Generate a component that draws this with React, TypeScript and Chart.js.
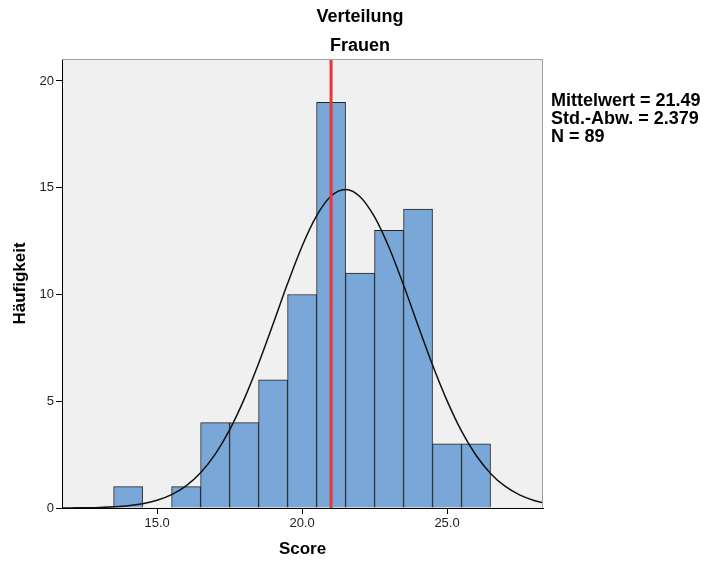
import React, { useEffect, useRef } from "react";
import { Chart, registerables } from "chart.js";

Chart.register(...registerables);

// Histogram bins (centre of 1-wide bin) and counts
const binCenters = [14, 16, 17, 18, 19, 20, 21, 22, 23, 24, 25, 26];
const binCounts = [1, 1, 4, 4, 6, 10, 19, 11, 13, 14, 3, 3];

// Normal curve points
const curveX = [11.7, 12, 13, 14, 14.5, 15, 15.5, 16, 16.5, 17, 17.5, 18, 18.5, 19, 19.5, 20, 20.5, 21, 21.5, 22, 22.5, 23, 23.5, 24, 24.5, 25, 25.5, 26, 26.5, 27, 27.5, 28, 28.35];
const curveY = [0.003, 0.005, 0.026, 0.105, 0.199, 0.361, 0.627, 1.04, 1.65, 2.51, 3.66, 5.09, 6.77, 8.62, 10.51, 12.26, 13.68, 14.61, 14.92, 14.58, 13.63, 12.2, 10.44, 8.55, 6.7, 5.03, 3.6, 2.47, 1.62, 1.02, 0.614, 0.353, 0.235];

const markerX = 21.0;

const titleText = "Verteilung";
const subtitleText = "Frauen";
const statsLines = ["Mittelwert = 21.49", "Std.-Abw. = 2.379", "N = 89"];
const xTitle = "Score";
const yTitle = "Häufigkeit";

const xMin = 11.72;
const xMax = 28.31;
const yMin = 0;
const yMax = 21.03;

const FONT = "'Liberation Sans', Arial, sans-serif";

export default function App() {
  const ref = useRef<HTMLCanvasElement>(null);
  useEffect(() => {
    document.body.style.margin = "0";
    const canvas = ref.current!;
    const bgPlugin = {
      id: "bg",
      beforeDraw(chart: any) {
        const { ctx, chartArea: a } = chart;
        ctx.save();
        ctx.fillStyle = "#f0f0f0";
        ctx.fillRect(a.left, a.top, a.right - a.left, a.bottom - a.top);
        ctx.restore();
      },
      afterDraw(chart: any) {
        const { ctx, chartArea: a } = chart;
        ctx.save();
        ctx.strokeStyle = "#a0a0a0";
        ctx.lineWidth = 1;
        ctx.beginPath();
        ctx.moveTo(a.left, a.top + 0.5);
        ctx.lineTo(a.right - 0.5, a.top + 0.5);
        ctx.lineTo(a.right - 0.5, a.bottom);
        ctx.stroke();
        ctx.fillStyle = "#000";
        ctx.textAlign = "center";
        ctx.textBaseline = "middle";
        ctx.font = `bold 18px ${FONT}`;
        ctx.fillText(titleText, 360, 17);
        ctx.fillText(subtitleText, 360, 46);
        ctx.font = `bold 17px ${FONT}`;
        ctx.fillText(xTitle, (a.left + a.right) / 2, 549);
        ctx.save();
        ctx.translate(20, (a.top + a.bottom) / 2);
        ctx.rotate(-Math.PI / 2);
        ctx.fillText(yTitle, 0, 0);
        ctx.restore();
        ctx.textAlign = "left";
        ctx.font = `bold 18px ${FONT}`;
        statsLines.forEach((s, i) => ctx.fillText(s, 551, 101 + i * 18));
        ctx.restore();
      },
    };
    const chart = new Chart(canvas, {
      type: "bar",
      data: {
        datasets: [
          {
            type: "line",
            data: [
              { x: markerX, y: yMin },
              { x: markerX, y: yMax },
            ],
            borderColor: "#e8363b",
            borderWidth: 3,
            pointRadius: 0,
            order: 0,
          } as any,
          {
            type: "line",
            data: curveX.map((x, i) => ({ x, y: curveY[i] })),
            borderColor: "#111",
            borderWidth: 1.5,
            pointRadius: 0,
            cubicInterpolationMode: "monotone",
            order: 1,
          } as any,
          {
            type: "bar",
            data: binCenters.map((x, i) => ({ x, y: binCounts[i] })),
            backgroundColor: "#79a7d7",
            borderColor: "#222",
            borderWidth: 1,
            barPercentage: 1,
            categoryPercentage: 1,
            order: 2,
          } as any,
        ],
      },
      options: {
        animation: false,
        responsive: false,
        layout: { padding: { left: 0, top: 59, right: 162, bottom: 0 } },
        plugins: { legend: { display: false }, tooltip: { enabled: false } },
        scales: {
          x: {
            type: "linear",
            offset: false,
            min: xMin,
            max: xMax,
            afterFit(s: any) { s.height = 53; },
            ticks: {
              stepSize: 5,
              includeBounds: false,
              color: "#222",
              font: { size: 13, family: FONT },
              padding: 2,
              callback: (v: any) => Number(v).toFixed(1),
            },
            grid: { offset: false, drawOnChartArea: false, drawTicks: true, tickLength: 6, color: "#000" },
            border: { color: "#000", width: 1 },
          },
          y: {
            type: "linear",
            min: yMin,
            max: yMax,
            afterFit(s: any) { s.width = 62; },
            ticks: {
              stepSize: 5,
              includeBounds: false,
              color: "#222",
              font: { size: 13, family: FONT },
              padding: 2,
            },
            grid: { drawOnChartArea: false, drawTicks: true, tickLength: 6, color: "#000" },
            border: { color: "#000", width: 1 },
          },
        },
      } as any,
      plugins: [bgPlugin],
    });
    return () => chart.destroy();
  }, []);
  return <canvas ref={ref} width={705} height={561} style={{ display: "block" }} />;
}
